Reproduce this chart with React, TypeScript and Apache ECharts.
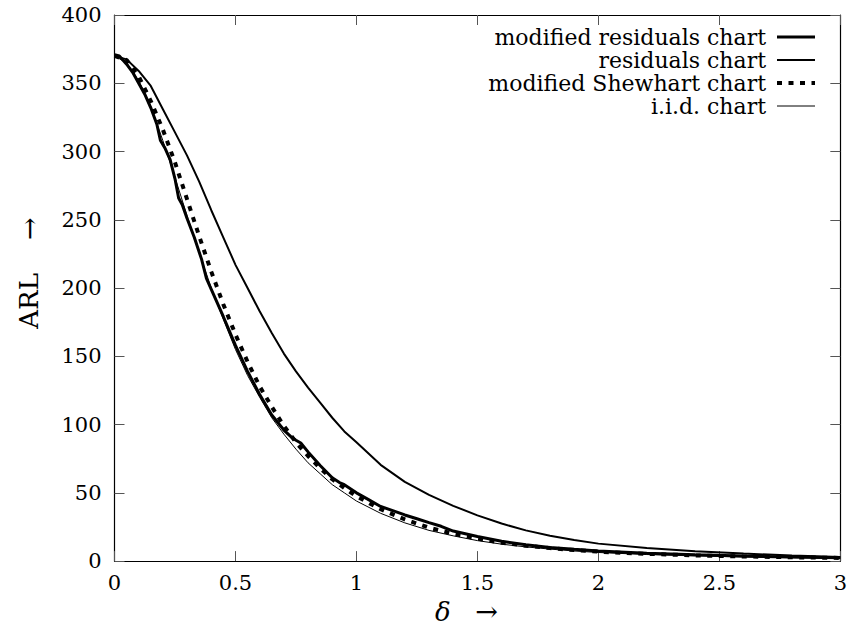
import React, { useEffect, useRef } from "react";
import * as echarts from "echarts";

const deltaGrid = [0, 0.05, 0.1, 0.15, 0.2, 0.25, 0.3, 0.35, 0.4, 0.45, 0.5, 0.55, 0.6, 0.65, 0.7, 0.75, 0.8, 0.85, 0.9, 0.95, 1.0, 1.1, 1.2, 1.3, 1.4, 1.5, 1.6, 1.7, 1.8, 1.9, 2.0, 2.2, 2.4, 2.6, 2.8, 3.0];

const iidArl = [370, 365, 352, 333, 308, 281, 253, 226, 200, 177, 155, 136, 120, 105, 93, 82, 72, 64, 56, 50, 44, 35, 28, 22.5, 18.5, 15, 12.4, 10.4, 8.8, 7.4, 6.3, 4.8, 3.8, 3.0, 2.5, 2.0];

const modShewhartArl = [370, 367, 355, 337, 316, 292, 265, 238, 212, 188, 166, 146, 128, 113, 99, 87, 77, 68, 60, 53.5, 47.5, 38, 30.5, 24.5, 20, 16.5, 13.5, 11.3, 9.5, 8.1, 6.9, 5.3, 4.2, 3.4, 2.8, 2.3];

const residualsArl = [370, 367.5, 359, 348, 331, 314, 297, 278, 257, 237, 217, 200, 183, 167, 152, 139, 127, 116, 105, 95, 87, 70.5, 58, 48.5, 40.5, 33.5, 27.5, 22.5, 18.6, 15.4, 12.8, 9.6, 7.3, 5.5, 4.1, 3.0];

const modResDelta = [0, 0.02, 0.05, 0.075, 0.1, 0.125, 0.15, 0.175, 0.19, 0.21, 0.23, 0.25, 0.265, 0.28, 0.3, 0.33, 0.36, 0.38, 0.4, 0.45, 0.5, 0.55, 0.6, 0.65, 0.7, 0.73, 0.75, 0.77, 0.8, 0.85, 0.9, 0.93, 0.95, 1.0, 1.05, 1.1, 1.15, 1.2, 1.25, 1.3, 1.35, 1.4, 1.5, 1.6, 1.7, 1.8, 1.9, 2.0, 2.2, 2.4, 2.6, 2.8, 3.0];
const modResArl = [371, 370, 364, 358, 350, 342, 332, 320, 308, 302, 294, 280, 266, 261, 251, 237, 221, 207, 199, 179, 158, 139, 122, 107, 96, 91, 88.5, 86.5, 80, 70, 61, 57.5, 56, 50, 45, 40, 37, 33.8, 31, 28.2, 25.5, 22, 18, 14.5, 12, 10, 8.6, 7.4, 5.7, 4.6, 3.7, 3.0, 2.5];

const seriesNames = ["modified residuals chart", "residuals chart", "modified Shewhart chart", "i.i.d. chart"];

const FONT = "DejaVu Serif";

const zip = (xs: number[], ys: number[]) => xs.map((x, i) => [x, ys[i]]);

export default function App() {
  const ref = useRef<HTMLDivElement>(null);
  useEffect(() => {
    if (!ref.current) return;
    const chart = echarts.init(ref.current, undefined, { renderer: "svg" });
    const tickStyle = { show: true, inside: true, length: 10, lineStyle: { color: "#555", width: 1 } };
    const axisLine = { show: true, onZero: false, lineStyle: { color: "#000", width: 1.2 } };
    const legendLines = [
      { width: 3, type: "solid" },
      { width: 2, type: "solid" },
      { width: 4, type: [5, 6.5] },
      { width: 1, type: "solid" },
    ];
    chart.setOption({
      animation: false,
      backgroundColor: "#fff",
      grid: { left: 114.5, right: 9.5, top: 15, bottom: 66.5, containLabel: false },
      legend: {
        orient: "vertical",
        right: 28,
        top: 21,
        align: "right",
        itemWidth: 38,
        itemHeight: 8,
        itemGap: 1,
        selectedMode: false,
        itemStyle: { opacity: 0 },
        textStyle: { fontFamily: FONT, fontSize: 22, color: "#000", padding: [0, 6, 0, 0] },
        data: seriesNames.map((n, i) => ({
          name: n,
          itemStyle: { opacity: 0 },
          lineStyle: { color: "#000", width: legendLines[i].width, type: legendLines[i].type, cap: "butt" },
        })),
      },
      xAxis: [
        {
          type: "value", min: 0, max: 3, interval: 0.5, position: "bottom",
          axisLine, axisTick: tickStyle, splitLine: { show: false },
          axisLabel: { fontFamily: FONT, fontSize: 21, color: "#000", margin: 11 },
          name: "{i|δ}   {a|→}", nameLocation: "middle", nameGap: 36,
          nameTextStyle: {
            fontFamily: FONT, fontSize: 26, color: "#000", padding: [0, 22, 0, 0],
            rich: {
              i: { fontFamily: FONT, fontSize: 26, fontStyle: "italic", color: "#000" },
              a: { fontFamily: FONT, fontSize: 27, color: "#000" },
            },
          },
        },
        {
          type: "value", min: 0, max: 3, interval: 0.5, position: "top",
          axisLine, axisTick: tickStyle, splitLine: { show: false }, axisLabel: { show: false },
        },
      ],
      yAxis: [
        {
          type: "value", min: 0, max: 400, interval: 50, position: "left",
          axisLine, axisTick: tickStyle, splitLine: { show: false },
          axisLabel: { fontFamily: FONT, fontSize: 21, color: "#000", margin: 13 },
          name: "ARL    {a|→}", nameLocation: "middle", nameGap: 72, nameRotate: 90,
          nameTextStyle: {
            fontFamily: FONT, fontSize: 26, color: "#000", padding: [0, 0, 0, 30],
            rich: { a: { fontFamily: FONT, fontSize: 27, color: "#000" } },
          },
        },
        {
          type: "value", min: 0, max: 400, interval: 50, position: "right",
          axisLine, axisTick: tickStyle, splitLine: { show: false }, axisLabel: { show: false },
        },
      ],
      series: [
        {
          name: seriesNames[3], type: "line", showSymbol: false, symbol: "none",
          data: zip(deltaGrid, iidArl), lineStyle: { color: "#000", width: 1 }, itemStyle: { color: "#000" }, z: 2,
        },
        {
          name: seriesNames[1], type: "line", showSymbol: false, symbol: "none",
          data: zip(deltaGrid, residualsArl), lineStyle: { color: "#000", width: 2 }, itemStyle: { color: "#000" }, z: 3,
        },
        {
          name: seriesNames[2], type: "line", showSymbol: false, symbol: "none",
          data: zip(deltaGrid, modShewhartArl), lineStyle: { color: "#000", width: 4, type: [5, 6.5], cap: "butt" }, itemStyle: { color: "#000" }, z: 4,
        },
        {
          name: seriesNames[0], type: "line", showSymbol: false, symbol: "none",
          data: zip(modResDelta, modResArl), lineStyle: { color: "#000", width: 3 }, itemStyle: { color: "#000" }, z: 5,
        },
      ],
    });
    return () => chart.dispose();
  }, []);
  return <div ref={ref} style={{ position: "fixed", left: 0, top: 0, width: 850, height: 630, background: "#fff" }} />;
}
